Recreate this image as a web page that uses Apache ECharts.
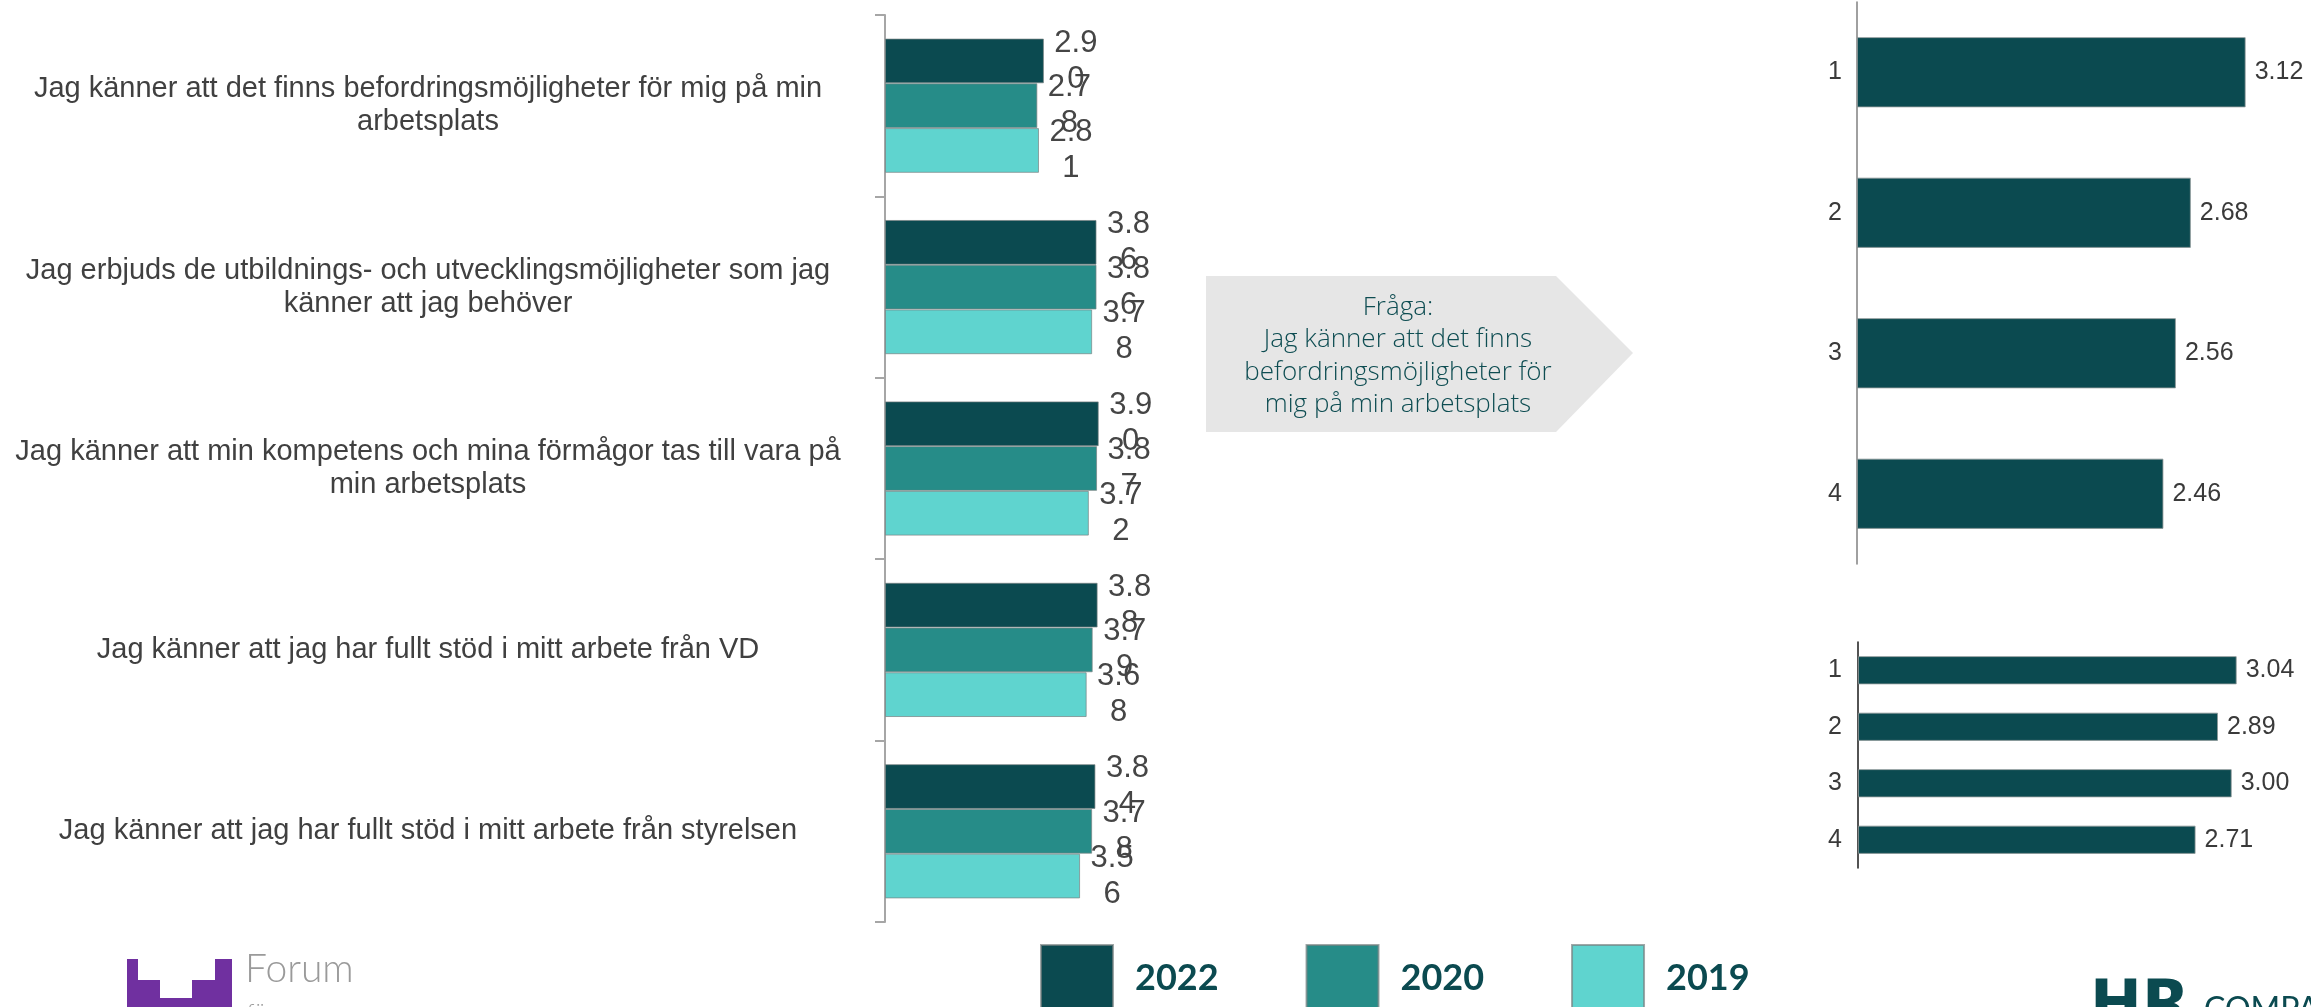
<!DOCTYPE html>
<html>
<head>
<meta charset="utf-8">
<script src="https://cdn.jsdelivr.net/npm/echarts@6/dist/echarts.min.js"></script>
<style>
  html, body { margin: 0; padding: 0; background: #fff; }
  #chart { width: 2311px; height: 1007px; }
</style>
</head>
<body>
<div id="chart"></div>
<script>
// frågor (vänster diagram)
var questions = [
  'Jag känner att det finns befordringsmöjligheter för mig på min\narbetsplats',
  'Jag erbjuds de utbildnings- och utvecklingsmöjligheter som jag\nkänner att jag behöver',
  'Jag känner att min kompetens och mina förmågor tas till vara på\nmin arbetsplats',
  'Jag känner att jag har fullt stöd i mitt arbete från VD',
  'Jag känner att jag har fullt stöd i mitt arbete från styrelsen'
];
var years = ['2022', '2020', '2019'];
var v2022 = [2.90, 3.86, 3.90, 3.88, 3.84];
var v2020 = [2.78, 3.86, 3.87, 3.79, 3.78];
var v2019 = [2.81, 3.78, 3.72, 3.68, 3.56];

// höger diagram
var rightCats = ['1', '2', '3', '4'];
var topValues = [3.12, 2.68, 2.56, 2.46];
var bottomValues = [3.04, 2.89, 3.00, 2.71];

var calloutText = 'Fråga:\nJag känner att det finns\nbefordringsmöjligheter för\nmig på min arbetsplats';

var colors = ['#0b4a50', '#268c88', '#5fd4cf'];
var dark = '#0b4a50';

var chart = echarts.init(document.getElementById('chart'));

function splitLabel(p) {
  var s = p.value.toFixed(2);
  return s.slice(0, 3) + '\n' + s.slice(3);
}

var leftSeries = [v2022, v2020, v2019].map(function (vals, i) {
  return {
    name: years[i],
    type: 'bar',
    xAxisIndex: 0,
    yAxisIndex: 0,
    data: vals,
    barGap: '0%',
    barCategoryGap: '26%',
    itemStyle: { color: colors[i], borderColor: 'rgba(120,130,130,0.7)', borderWidth: 1 },
    label: {
      show: true,
      position: 'right',
      distance: 32,
      align: 'center',
      formatter: splitLabel,
      fontFamily: 'Liberation Sans',
      fontSize: 31,
      lineHeight: 36,
      color: '#454545'
    }
  };
});

function rightBar(name, vals, idx) {
  return {
    name: name,
    type: 'bar',
    xAxisIndex: idx,
    yAxisIndex: idx,
    data: vals,
    barCategoryGap: '50%',
    itemStyle: { color: dark, borderColor: 'rgba(140,150,150,0.8)', borderWidth: 1 },
    label: {
      show: true,
      position: 'right',
      distance: 9,
      formatter: function (p) { return p.value.toFixed(2); },
      fontFamily: 'Liberation Sans',
      fontSize: 25,
      color: '#3a3a3a'
    }
  };
}

var option = {
  animation: false,
  backgroundColor: '#ffffff',
  legend: {
    data: years,
    left: 1035,
    top: 939,
    icon: 'rect',
    itemWidth: 72,
    itemHeight: 66,
    itemGap: 87,
    textStyle: {
      fontFamily: 'Lato',
      fontWeight: 'bold',
      fontSize: 36,
      color: dark,
      padding: [0, 0, 0, 17]
    }
  },
  grid: [
    { left: 885, top: 15, width: 274, height: 907 },
    { left: 1857, top: 2, width: 436, height: 562 },
    { left: 1858, top: 642, width: 436, height: 226 }
  ],
  xAxis: [
    { gridIndex: 0, type: 'value', min: 0, max: 5, show: false },
    { gridIndex: 1, type: 'value', min: 0, max: 3.5, show: false },
    { gridIndex: 2, type: 'value', min: 0, max: 3.5, show: false }
  ],
  yAxis: [
    {
      gridIndex: 0,
      type: 'category',
      inverse: true,
      data: questions,
      axisLine: { lineStyle: { color: '#a6a6a6', width: 2 } },
      axisTick: { show: true, length: 10, lineStyle: { color: '#a6a6a6', width: 2 } },
      axisLabel: {
        margin: 457,
        align: 'center',
        fontFamily: 'Liberation Sans',
        fontSize: 29,
        lineHeight: 33,
        color: '#404040'
      }
    },
    {
      gridIndex: 1,
      type: 'category',
      inverse: true,
      data: rightCats,
      axisLine: { lineStyle: { color: '#808080', width: 1.5 } },
      axisTick: { show: false },
      axisLabel: { margin: 15, fontFamily: 'Liberation Sans', fontSize: 25, color: '#3a3a3a' }
    },
    {
      gridIndex: 2,
      type: 'category',
      inverse: true,
      data: rightCats,
      axisLine: { lineStyle: { color: '#1a1a1a', width: 1.5 } },
      axisTick: { show: false },
      axisLabel: { margin: 16, fontFamily: 'Liberation Sans', fontSize: 25, color: '#3a3a3a' }
    }
  ],
  series: leftSeries.concat([
    rightBar('topp', topValues, 1),
    rightBar('botten', bottomValues, 2)
  ]),
  graphic: [
    {
      type: 'polygon',
      shape: { points: [[1206, 276], [1556, 276], [1633, 353], [1556, 432], [1206, 432]] },
      style: { fill: '#e6e6e6' }
    },
    {
      type: 'text',
      x: 1398,
      y: 356,
      style: {
        text: calloutText,
        fontFamily: 'Open Sans',
        fontWeight: 300,
        fontSize: 26,
        lineHeight: 32.5,
        fill: '#0e4d52',
        align: 'center',
        verticalAlign: 'middle'
      }
    },
    {
      type: 'polygon',
      shape: { points: [[127, 959], [138, 959], [138, 980], [160, 980], [160, 998], [192, 998], [192, 980], [215, 980], [215, 959], [232, 959], [232, 1007], [127, 1007]] },
      style: { fill: '#7030a0' }
    },
    {
      type: 'text',
      x: 245,
      y: 950,
      style: { text: 'Forum', fontFamily: 'Lato', fontWeight: 300, fontSize: 39, fill: '#9a9a9a', align: 'left', verticalAlign: 'top' }
    },
    {
      type: 'text',
      x: 247,
      y: 1001,
      style: { text: 'för', fontFamily: 'Lato', fontWeight: 300, fontSize: 22, fill: '#9a9a9a', align: 'left', verticalAlign: 'top' }
    },
    {
      type: 'text',
      x: 2090,
      y: 977,
      style: { text: 'HR', fontFamily: 'DejaVu Sans', fontWeight: 'bold', fontSize: 62, fill: dark, align: 'left', verticalAlign: 'top' }
    },
    {
      type: 'text',
      x: 2204,
      y: 994,
      style: { text: 'COMPANY', fontFamily: 'Lato', fontSize: 32, fill: dark, align: 'left', verticalAlign: 'top' }
    }
  ]
};

chart.setOption(option);
</script>
</body>
</html>
